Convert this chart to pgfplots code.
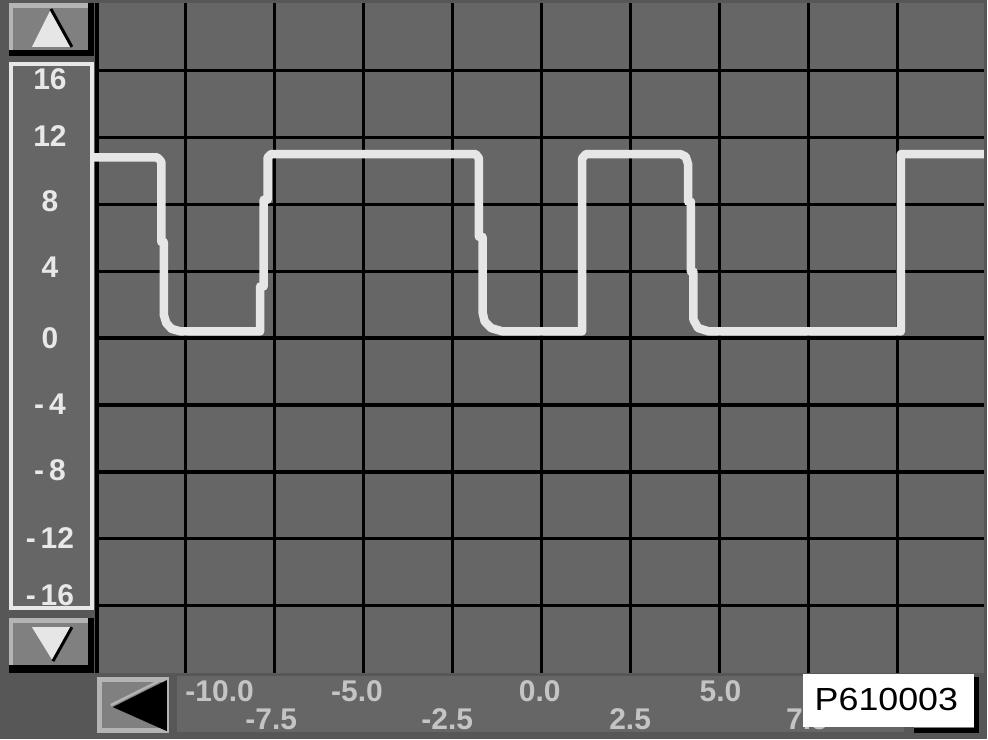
\documentclass[border=0pt]{standalone}
\usepackage{fontspec}
\setmainfont{Liberation Sans}
\usepackage{graphicx}
\usepackage{pgfplots}
\pgfplotsset{compat=1.18}
\definecolor{outerbg}{HTML}{575757}
\definecolor{plotbg}{HTML}{666666}
\definecolor{btnface}{HTML}{808080}
\definecolor{btnlight}{HTML}{B4B4B4}
\definecolor{sig}{HTML}{E6E6E6}
\definecolor{ylab}{HTML}{E8E8E8}
\definecolor{xlab}{HTML}{C4C4C4}
\begin{document}
\begin{tikzpicture}
\begin{scope}[x=1pt,y=1pt]
% whole background
\fill[outerbg] (0,0) rectangle (988,740);
% y label panel
\fill[plotbg] (9,129) rectangle (94,678);
\draw[ylab, line width=4pt] (11,131) rectangle (92,676);
% x label panel
\fill[plotbg] (177,7) rectangle (905,63);
% up button
\fill[btnface] (9,684) rectangle (94,737);
\fill[btnlight] (9,732) rectangle (88,737);
\fill[btnlight] (9,690) rectangle (13,737);
\fill[black] (9,684) rectangle (94,690);
\fill[black] (88,684) rectangle (94,737);
\fill[sig] (51,731) -- (72,693) -- (32,693) -- cycle;
\draw[black, line width=3pt] (51,731) -- (72,693);
% down button
\fill[btnface] (9,66) rectangle (94,121);
\fill[btnlight] (9,116) rectangle (88,121);
\fill[btnlight] (9,74) rectangle (13,121);
\fill[black] (9,66) rectangle (94,74);
\fill[black] (88,66) rectangle (94,121);
\fill[sig] (32,112) -- (72,112) -- (53,78) -- cycle;
\draw[black, line width=3pt] (72,112) -- (53,78);
% left arrow button
\fill[btnlight] (97,6) rectangle (169,62);
\fill[btnface] (102,11) rectangle (163,57);
\fill[black] (113,32) -- (167,59) -- (167,8) -- cycle;
\draw[btnlight, line width=2.5pt] (111,34) -- (165,61);
% right arrow button (mostly hidden)
\fill[btnface] (915,6) rectangle (980,62);
\fill[btnlight] (915,58) rectangle (980,62);
\fill[black] (915,6) rectangle (980,11);
\fill[black] (975,6) rectangle (980,62);
\end{scope}
\begin{axis}[
  at={(97pt,66.5pt)}, anchor=south west,
  scale only axis, width=888pt, height=670pt,
  xmin=-12.5, xmax=12.43, ymin=-20, ymax=20,
  clip=false,
  axis line style={draw=none},
  axis background/.style={fill=plotbg},
  minor xtick={-12.5,-10,...,10},
  minor ytick={-16,-12,...,16},
  xminorgrids=true, yminorgrids=true,
  xmajorgrids=false, ymajorgrids=false,
  minor grid style={black, line width=3.3pt},
  major tick length=0pt, minor tick length=0pt,
  xtick={-9.05,-5.19,-0.05,5.03},
  xticklabels={-10.0,-5.0,0.0,5.0},
  extra x ticks={-7.6,-2.65,2.49,7.46},
  extra x tick labels={-7.5,-2.5,2.5,7.5},
  extra x tick style={grid=none, xticklabel shift=46.5pt},
  xticklabel shift=18.5pt,
  xticklabel style={anchor=center, font=\fontsize{30}{30}\selectfont\bfseries, text=xlab},
  ytick={-15.37,-11.97,-7.88,-3.97,0,4.21,8.21,12.09,15.49},
  yticklabels={-\,16,-\,12,-\,8,-\,4,0,4,8,12,16},
  yticklabel shift=47pt,
  yticklabel style={anchor=center, font=\fontsize{30}{30}\selectfont\bfseries, text=ylab},
]
\addplot[sig, line width=8.5pt, line join=round, mark=none] coordinates {
(-12.58,10.8) (-10.8,10.8) (-10.69,10.55) (-10.69,5.75) (-10.62,5.75)
(-10.62,1.4) (-10.55,0.9) (-10.4,0.55) (-10.15,0.4)
(-7.91,0.4) (-7.91,3.09) (-7.81,3.09) (-7.81,8.27) (-7.70,8.27)
(-7.70,10.8) (-7.6,11.0)
(-1.85,11.0) (-1.76,10.75) (-1.76,6.05) (-1.66,6.05) (-1.66,1.55)
(-1.60,1.0) (-1.42,0.6) (-1.10,0.4)
(1.14,0.4) (1.14,10.75) (1.25,11.0)
(3.90,11.0) (4.05,10.85) (4.12,10.4) (4.12,8.15) (4.20,8.15)
(4.20,3.97) (4.27,3.97) (4.27,1.1) (4.40,0.6) (4.70,0.4)
(10.10,0.4) (10.10,11.0) (12.43,11.0)
};
\end{axis}
\begin{scope}[x=1pt,y=1pt]
% label box
\fill[white] (804,12) rectangle (975,65);
\node[black, inner sep=0pt] at (887.5,40) {\scalebox{1.12}[1]{\fontsize{32}{32}\selectfont P610003}};
\end{scope}
\end{tikzpicture}
\end{document}
